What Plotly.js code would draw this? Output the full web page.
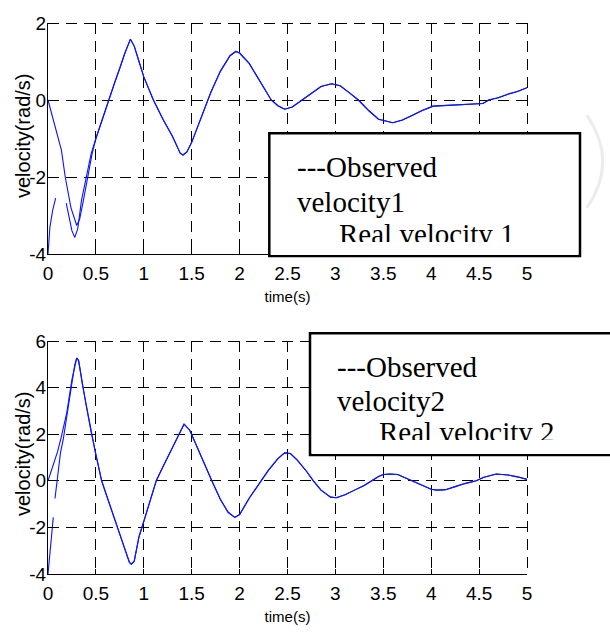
<!DOCTYPE html>
<html><head><meta charset="utf-8">
<script src="https://cdn.plot.ly/plotly-3.0.1.min.js"></script>
<style>html,body{margin:0;padding:0;background:#fff}#chart{width:610px;height:632px}</style>
</head><body><div id="chart"></div>
<script>
// ---- data ----
const xTickVals = [0, 0.5, 1, 1.5, 2, 2.5, 3, 3.5, 4, 4.5, 5];
const xTickText = ['0', '0.5', '1', '1.5', '2', '2.5', '3', '3.5', '4', '4.5', '5'];
const yTickVals1 = [-4, -2, 0, 2];
const yTickVals2 = [-4, -2, 0, 2, 4, 6];
const xTitle = 'time(s)';
const yTitle = 'velocity(rad/s)';

const realT1 = [0, 0.05, 0.09, 0.14, 0.18, 0.24, 0.3, 0.33, 0.37, 0.42, 0.46, 0.5, 0.55, 0.6, 0.63, 0.7, 0.75, 0.8, 0.86, 0.9, 0.95, 1.0, 1.1, 1.2, 1.3, 1.38, 1.41, 1.45, 1.5, 1.6, 1.67, 1.7, 1.8, 1.9, 1.96, 2.0, 2.1, 2.2, 2.33, 2.4, 2.47, 2.55, 2.65, 2.75, 2.85, 2.96, 3.05, 3.15, 3.24, 3.35, 3.45, 3.6, 3.7, 3.8, 3.9, 4.02, 4.2, 4.4, 4.54, 4.6, 4.7, 4.8, 4.9, 5.0];
const realV1 = [0, -0.45, -0.86, -1.3, -2.0, -2.8, -3.26, -3.1, -2.6, -1.95, -1.4, -1.0, -0.62, -0.23, 0, 0.48, 0.83, 1.2, 1.58, 1.4, 1.0, 0.6, 0.0, -0.5, -0.95, -1.38, -1.43, -1.35, -1.1, -0.45, 0, 0.2, 0.75, 1.15, 1.26, 1.22, 0.95, 0.55, 0, -0.15, -0.24, -0.18, 0, 0.18, 0.35, 0.42, 0.37, 0.18, 0, -0.28, -0.5, -0.59, -0.52, -0.4, -0.28, -0.16, -0.13, -0.11, -0.09, 0, 0.06, 0.15, 0.22, 0.32];
const obsT1 = [0, 0.02, 0.05, 0.08, 0.1, 0.19, 0.22, 0.25, 0.28, 0.31, 0.35, 0.4, 0.45, 0.5];
const obsV1 = [-4, -3.3, -2.85, -2.55, null, -2.68, -3.05, -3.4, -3.57, -3.35, -2.6, -1.95, -1.4, -1.0];

const realT2 = [0, 0.05, 0.1, 0.143, 0.195, 0.25, 0.28, 0.3, 0.32, 0.36, 0.4, 0.45, 0.5, 0.56, 0.6, 0.65, 0.7, 0.75, 0.8, 0.85, 0.87, 0.9, 0.95, 1.0, 1.05, 1.13, 1.2, 1.3, 1.38, 1.42, 1.48, 1.55, 1.63, 1.71, 1.8, 1.88, 1.95, 2.0, 2.1, 2.23, 2.3, 2.4, 2.47, 2.53, 2.6, 2.7, 2.77, 2.85, 2.95, 3.01, 3.1, 3.2, 3.3, 3.38, 3.45, 3.5, 3.57, 3.65, 3.73, 3.8, 3.9, 4.0, 4.06, 4.15, 4.25, 4.35, 4.47, 4.55, 4.68, 4.8, 4.9, 5.0];
const realV2 = [0, 0.6, 1.25, 1.96, 2.9, 4.35, 5.0, 5.27, 5.15, 4.1, 3.2, 2.1, 1.1, 0, -0.5, -1.1, -1.7, -2.3, -2.9, -3.5, -3.58, -3.45, -2.4, -1.75, -1.05, 0, 0.6, 1.45, 2.15, 2.43, 2.17, 1.5, 0.75, 0, -0.8, -1.35, -1.57, -1.45, -0.75, 0, 0.45, 0.95, 1.2, 1.17, 0.9, 0.4, 0, -0.4, -0.7, -0.73, -0.6, -0.4, -0.2, 0, 0.18, 0.27, 0.29, 0.27, 0.12, 0, -0.2, -0.36, -0.4, -0.38, -0.25, -0.12, 0, 0.15, 0.29, 0.25, 0.17, 0.06];
const obsT2 = [0, 0.02, 0.04, 0.055, 0.065, 0.073, 0.1, 0.13, 0.16, 0.2, 0.25];
const obsV2 = [-4, -3.0, -2.1, -1.57, null, -0.76, 0.2, 1.2, 1.8, 2.85, 4.35];

const legend1 = ['---Observed', 'velocity1', 'Real velocity 1'];
const legend2 = ['---Observed', 'velocity2', 'Real velocity 2'];

// observed curves follow the real ones after they merge
const mergeT1 = obsT1[obsT1.length - 1], mergeT2 = obsT2[obsT2.length - 1];
const fullObsT1 = obsT1.concat(realT1.filter(t => t > mergeT1));
const fullObsV1 = obsV1.concat(realV1.filter((v, i) => realT1[i] > mergeT1));
const fullObsT2 = obsT2.concat(realT2.filter(t => t > mergeT2));
const fullObsV2 = obsV2.concat(realV2.filter((v, i) => realT2[i] > mergeT2));

// ---- drawing ----
const W = 610, H = 632;
const px = x => x / W, py = y => 1 - y / H;
const blue = '#0a14ff';
const line = {color: blue, width: 1.1};
const DASH = '11px,7px';

const traces = [
  {x: realT1, y: realV1, mode: 'lines', line, xaxis: 'x', yaxis: 'y', name: legend1[2]},
  {x: fullObsT1, y: fullObsV1, mode: 'lines', line, xaxis: 'x', yaxis: 'y', name: 'Observed velocity1', connectgaps: false},
  {x: realT2, y: realV2, mode: 'lines', line, xaxis: 'x2', yaxis: 'y2', name: legend2[2]},
  {x: fullObsT2, y: fullObsV2, mode: 'lines', line, xaxis: 'x2', yaxis: 'y2', name: 'Observed velocity2', connectgaps: false}
];

const sans = 'Liberation Sans, Arial, sans-serif';
const tickFont = {family: sans, size: 19, color: '#000'};
function xAxis(domain, anchor) {
  return {
    domain, anchor, range: [0, 5], tickmode: 'array', tickvals: xTickVals, ticktext: xTickText,
    showgrid: true, gridcolor: '#000', gridwidth: 1, griddash: DASH,
    showline: true, linecolor: '#000', linewidth: 1, mirror: false, zeroline: false,
    ticks: 'inside', ticklen: 5, tickcolor: '#000', tickfont: tickFont, ticklabelstandoff: 2,
    title: {text: xTitle, font: {family: sans, size: 15, color: '#000'}, standoff: 8},
    automargin: false, fixedrange: true
  };
}
function yAxis(domain, anchor, range, vals) {
  return {
    domain, anchor, range, tickmode: 'array', tickvals: vals, ticktext: vals.map(String),
    showgrid: true, gridcolor: '#000', gridwidth: 1, griddash: DASH,
    showline: true, linecolor: '#000', linewidth: 1, mirror: false, zeroline: false,
    ticks: 'inside', ticklen: 5, tickcolor: '#000', tickfont: tickFont, ticklabelstandoff: -3,
    automargin: false, fixedrange: true
  };
}

// dashed top and right frame edges (crisp, on pixel centres)
function edges(left, right, top, bottom) {
  const st = {color: '#000', width: 1, dash: DASH};
  return [
    {type: 'line', xref: 'paper', yref: 'paper', x0: px(left), x1: px(right + 0.5), y0: py(top + 0.5), y1: py(top + 0.5), line: st, layer: 'below'},
    {type: 'line', xref: 'paper', yref: 'paper', x0: px(right + 0.5), x1: px(right + 0.5), y0: py(top), y1: py(bottom), line: st, layer: 'below'}
  ];
}

const xDom = [px(48), px(527)];
const layout = {
  width: W, height: H, margin: {l: 0, r: 0, t: 0, b: 0},
  paper_bgcolor: '#fff', plot_bgcolor: '#fff', showlegend: false,
  xaxis: xAxis(xDom, 'y'),
  yaxis: yAxis([py(254), py(23)], 'x', [-4, 2], yTickVals1),
  xaxis2: xAxis(xDom, 'y2'),
  yaxis2: yAxis([py(574), py(341)], 'x2', [-4, 6], yTickVals2),
  shapes: [].concat(
    edges(48, 527, 23, 254),
    edges(48, 527, 341, 574),
    [
      {type: 'rect', xref: 'paper', yref: 'paper', x0: px(269.3), x1: px(580), y0: py(256), y1: py(133.3),
       line: {color: '#000', width: 2.5}, fillcolor: '#fff', layer: 'above'},
      {type: 'rect', xref: 'paper', yref: 'paper', x0: px(310), x1: px(640), y0: py(455), y1: py(333.3),
       line: {color: '#000', width: 2.5}, fillcolor: '#fff', layer: 'above'},
      {type: 'path', xref: 'paper', yref: 'paper',
       path: `M ${px(586.7)} ${py(115)} Q ${px(618.7)} ${py(161.5)} ${px(586.7)} ${py(208)}`,
       line: {color: '#ececec', width: 3}, layer: 'above'}
    ]),
  annotations: []
};

const serif = {family: 'Liberation Serif, Times New Roman, serif', size: 29, color: '#000'};
function txt(text, x, y) {
  return {xref: 'paper', yref: 'paper', x: px(x), y: py(y), xanchor: 'left', yanchor: 'middle',
          text, showarrow: false, font: serif};
}
function ytitle(x, y) {
  return {xref: 'paper', yref: 'paper', x: px(x), y: py(y), xanchor: 'center', yanchor: 'middle',
          text: yTitle, textangle: -90, showarrow: false, font: {family: sans, size: 20, color: '#000'}};
}
function cover(x0, x1, y0, y1) {
  return {xref: 'paper', yref: 'paper', x: px(x0), y: py(y0), xanchor: 'left', yanchor: 'top',
          text: ' ', showarrow: false, width: x1 - x0, height: y1 - y0, bgcolor: '#fff',
          borderpad: 0, borderwidth: 0, font: {size: 4}};
}
layout.annotations.push(
  ytitle(23, 136), ytitle(23, 454),
  txt(legend1[0], 295, 167), txt(legend1[1], 295, 202), txt(legend1[2], 337, 234),
  cover(271, 578, 241.7, 254.5),
  txt(legend2[0], 335, 367), txt(legend2[1], 335, 401), txt(legend2[2], 377, 432),
  cover(312, 610, 440, 453.5)
);

Plotly.newPlot('chart', traces, layout, {staticPlot: true, displayModeBar: false});
</script></body></html>
